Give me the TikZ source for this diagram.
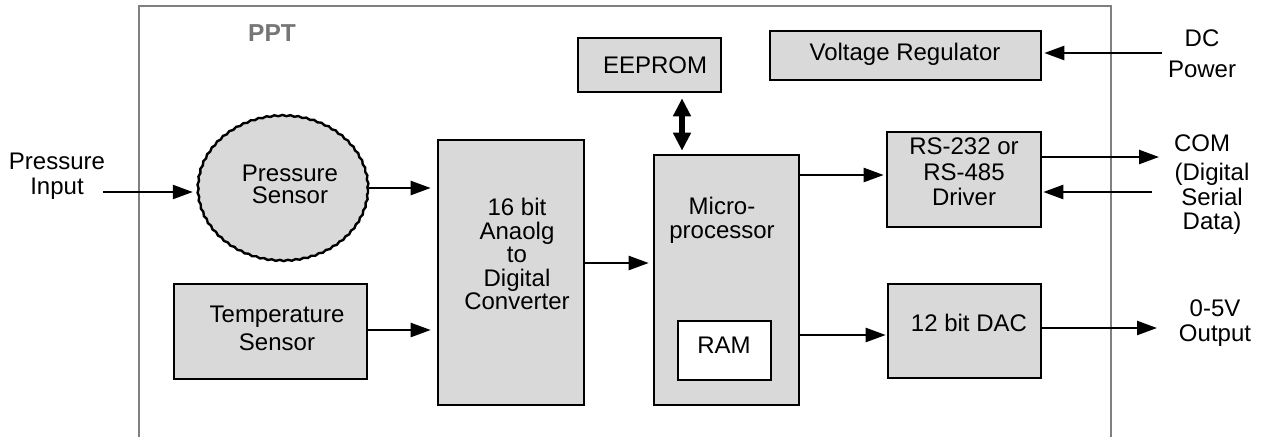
\documentclass[tikz,border=0pt]{standalone}
\usepackage{fontspec}
\setmainfont{Liberation Sans}
\usetikzlibrary{arrows.meta,shapes.geometric,decorations.pathmorphing}
\definecolor{boxfill}{RGB}{217,217,217}
\definecolor{framegray}{RGB}{128,128,128}
\definecolor{pptgray}{RGB}{118,118,118}
\newcommand{\myfs}[1]{\fontsize{24pt}{#1pt}\selectfont}
\begin{document}
\begin{tikzpicture}[x=1pt,y=-1pt,
  box/.style={draw=black,fill=boxfill,line width=2.6pt,inner sep=0pt},
  txt/.style={inner sep=0pt,align=center,font={\myfs{24}}},
  arr/.style={line width=2.4pt,-{Triangle[length=20pt,width=14pt]}},
  dbl/.style={line width=6.5pt,{Triangle[length=18pt,width=17pt]}-{Triangle[length=18pt,width=17pt]}},
  frame/.style={draw=framegray,line width=2.8pt}]
\useasboundingbox (0,0) rectangle (1263,437);
\fill[white] (0,0) rectangle (1263,437);
% outer frame
\draw[frame] (139,437) -- (139,6) -- (1111,6) -- (1111,437);
\node[anchor=base,inner sep=0pt,font={\fontsize{24.5pt}{26pt}\selectfont\bfseries},text=pptgray] (ppt) at (272,41) {PPT};
% blocks
\node[ellipse,draw=black,fill=boxfill,line width=2.4pt,minimum width=170pt,minimum height=145pt,inner sep=0pt,
      decorate,decoration={snake,amplitude=0.6pt,segment length=8pt}] (ps) at (283,190) {};
\node[box,minimum width=193pt,minimum height=95pt] (temp) at (270.5,331.5) {};
\node[box,minimum width=146pt,minimum height=265pt] (adc) at (511,272.5) {};
\node[box,minimum width=145pt,minimum height=250pt] (micro) at (726.5,280) {};
\node[box,fill=white,line width=1.6pt,minimum width=93pt,minimum height=59pt] (ram) at (724.5,350.5) {};
\node[box,minimum width=143pt,minimum height=54pt] (ee) at (649.5,65) {};
\node[box,minimum width=271pt,minimum height=49pt] (vr) at (905.5,55.5) {};
\node[box,minimum width=154pt,minimum height=95pt] (rs) at (964,179.5) {};
\node[box,minimum width=153pt,minimum height=94pt] (dac) at (964.5,331) {};
% texts
\node[txt,font={\myfs{25}},anchor=north] (pinL) at (57,153) {Pressure\\Input};
\node[txt,font={\myfs{21.7}},anchor=north] (psL) at (290,165) {Pressure\\Sensor};
\node[txt,font={\myfs{27.7}},anchor=north] (tempL) at (277,306) {Temperature\\Sensor};
\node[txt,font={\myfs{23.5}},anchor=north] (adcL) at (517,198) {16 bit\\Anaolg\\to\\Digital\\Converter};
\node[txt,font={\myfs{24}},anchor=north] (microL) at (722,197) {Micro-\\processor};
\node[txt,anchor=base] (ramL) at (724,353) {RAM};
\node[txt,anchor=base] (eeL) at (655,73) {EEPROM};
\node[txt,anchor=base] (vrL) at (905,60) {Voltage Regulator};
\node[txt,font={\myfs{25.5}},anchor=north] (rsL) at (964,138) {RS-232 or\\RS-485\\Driver};
\node[txt,anchor=base] (dacL) at (969,331) {12 bit DAC};
\node[txt,font={\myfs{31}},anchor=north] (dcL) at (1202,30) {DC\\Power};
\node[txt,font={\myfs{24.5}},anchor=north] (comL) at (1212,135) {COM\hspace*{20pt}\\[4.5pt](Digital\\Serial\\Data)};
\node[txt,font={\myfs{25}},anchor=north] (voutL) at (1215,300) {0-5V\\Output};
% connectors
\coordinate (pin) at (103,192);
\draw[arr,shorten >=4pt] (pin) -- (pin -| ps.west);
\draw[arr,shorten >=6pt] ([yshift=2pt]ps.east) -- ([yshift=2pt]ps.east -| adc.west);
\draw[arr,shorten >=6pt] ([yshift=1.5pt]temp.east) -- ([yshift=1.5pt]temp.east -| adc.west);
\draw[arr,shorten >=4pt] ([yshift=9.5pt]adc.east) -- ([yshift=9.5pt]adc.east -| micro.west);
\draw[arr,shorten >=2pt] ([yshift=105pt]micro.east) -- ([yshift=105pt]micro.east -| rs.west);
\coordinate (comout) at (1159,157);
\draw[arr] ([yshift=22.5pt]rs.east) -- (comout);
\coordinate (comin) at (1152,192);
\draw[arr,shorten >=1pt] (comin) -- (comin -| rs.east);
\draw[arr,shorten >=1pt] ([yshift=-55pt]micro.east) -- ([yshift=-55pt]micro.east -| dac.west);
\coordinate (vout) at (1157,328);
\draw[arr] ([yshift=3pt]dac.east) -- (vout);
\coordinate (dcin) at (1162,53);
\draw[arr,shorten >=2pt] (dcin) -- (dcin -| vr.east);
\draw[dbl,shorten <=5pt,shorten >=3pt] ([xshift=32.5pt]ee.south) -- ([xshift=-44.5pt]micro.north);
\end{tikzpicture}
\end{document}
